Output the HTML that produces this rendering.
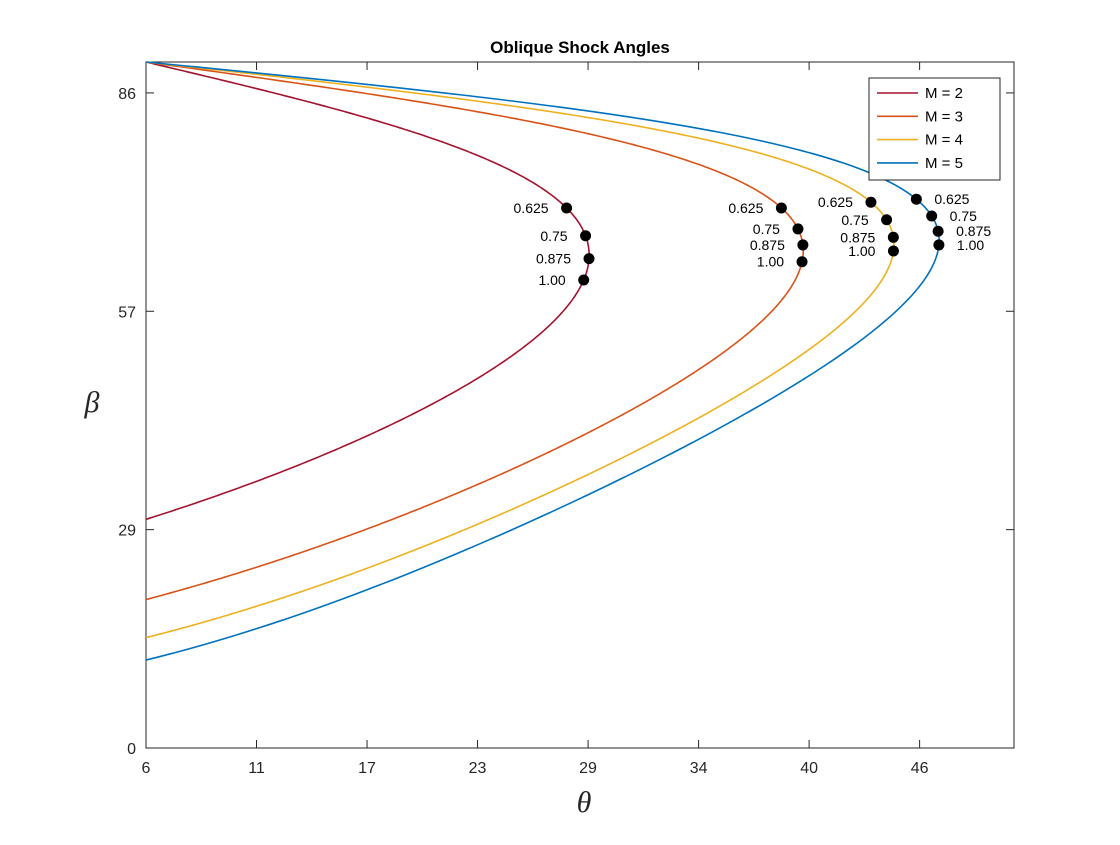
<!DOCTYPE html>
<html><head><meta charset="utf-8"><style>
body{margin:0;background:#fff;}
svg text{font-family:"Liberation Sans",sans-serif;}
</style></head><body>
<svg id="chart" width="1120" height="840" xmlns="http://www.w3.org/2000/svg">
<rect x="0" y="0" width="1120" height="840" fill="#fff"/>
<rect x="146" y="62" width="868" height="686" fill="#fff" stroke="#262626" stroke-width="1"/>
<g id="ticks"></g>
<g id="series"></g>
<g id="markers"></g>
<text x="580" y="53" text-anchor="middle" font-size="17" font-weight="bold" fill="#000">Oblique Shock Angles</text>
<text x="584" y="812" text-anchor="middle" font-size="30" font-style="italic" font-family="Liberation Serif,serif" style="font-family:'Liberation Serif',serif" fill="#262626">θ</text>
<text x="92" y="412" text-anchor="middle" font-size="30" font-style="italic" style="font-family:'Liberation Serif',serif" fill="#262626">β</text>
<g>
<rect x="869" y="78" width="131" height="102" fill="#fff" stroke="#262626" stroke-width="1"/>
<g id="legend"></g>
</g>
</svg>
<script>
const machNumbers=[2,3,4,5];
const seriesColors=['#A2142F','#D95319','#EDB120','#0072BD'];
const seriesNames=['M = 2','M = 3','M = 4','M = 5'];
const markerLabels=['0.625','0.75','0.875','1.00'];
const markerBetaM2=[70.85,67.2,64.2,61.4];
const markerBetaM3=[70.85,68.1,66.0,63.8];
const markerBetaM4=[71.6,69.3,67.0,65.2];
const markerBetaM5=[72.0,69.8,67.8,66.0];
const xTickValues=[0,0.1,0.2,0.3,0.4,0.5,0.6,0.7];
const xTickLabels=['6','11','17','23','29','34','40','46'];
const yTickValues=[0,0.5,1.0,1.5];
const yTickLabels=['0','29','57','86'];
const gamma=1.4;
const X0=146,X1=1014,Y0=748,Y1=62;
const xMax=Math.PI/4,yMax=Math.PI/2;
function sx(v){return X0+v/xMax*(X1-X0);}
function sy(v){return Y0-v/yMax*(Y0-Y1);}
function theta(M,b){
  const num=2/Math.tan(b)*(M*M*Math.sin(b)**2-1);
  const den=M*M*(gamma+Math.cos(2*b))+2;
  return Math.atan(num/den);
}
const NS='http://www.w3.org/2000/svg';
function mk(tag,attrs,parent){const e=document.createElementNS(NS,tag);for(const k in attrs)e.setAttribute(k,attrs[k]);parent.appendChild(e);return e;}
const tg=document.getElementById('ticks');
xTickValues.forEach((v,i)=>{
  const x=sx(v);
  mk('line',{x1:x,x2:x,y1:Y0,y2:Y0-8,stroke:'#262626'},tg);
  mk('line',{x1:x,x2:x,y1:Y1,y2:Y1+8,stroke:'#262626'},tg);
  const t=mk('text',{x:x,y:Y0+25,'text-anchor':'middle','font-size':'16',fill:'#262626'},tg);
  t.textContent=xTickLabels[i];
  
  
});
yTickValues.forEach((v,i)=>{
  const y=sy(v);
  mk('line',{x1:X0,x2:X0+8,y1:y,y2:y,stroke:'#262626'},tg);
  mk('line',{x1:X1,x2:X1-8,y1:y,y2:y,stroke:'#262626'},tg);
  const t=mk('text',{x:X0-10,y:y+6,'text-anchor':'end','font-size':'16',fill:'#262626'},tg);
  t.textContent=yTickLabels[i];
  
  
});
const sg=document.getElementById('series');
machNumbers.forEach((M,i)=>{
  const bmin=Math.asin(1/M);
  let d='';
  for(let k=0;k<=600;k++){
    const b=bmin+(Math.PI/2-bmin)*k/600;
    let th=Math.max(0,theta(M,b));
    d+=(k?'L':'M')+sx(th).toFixed(2)+','+sy(b).toFixed(2);
  }
  const p=mk('path',{d:d,fill:'none',stroke:seriesColors[i],'stroke-width':'1.6'},sg);
  
  
});
const mg=document.getElementById('markers');
const allBetas=[markerBetaM2,markerBetaM3,markerBetaM4,markerBetaM5];
allBetas.forEach((arr,i)=>{
  const M=machNumbers[i];
  arr.forEach((bd,j)=>{
    const b=bd*Math.PI/180;
    const x=sx(theta(M,b)),y=sy(b);
    const c=mk('circle',{cx:x,cy:y,r:5.5,fill:'#000'},mg);
    
    
    const right=(i===3);
    const t=mk('text',{x:right?x+18:x-18,y:y+5,'text-anchor':right?'start':'end','font-size':'14',fill:'#000'},mg);
    t.textContent=markerLabels[j];
    
    
  });
});
const lg=document.getElementById('legend');
seriesNames.forEach((n,i)=>{
  const y=93+i*23.3;
  const l=mk('line',{x1:877,x2:918,y1:y,y2:y,stroke:seriesColors[i],'stroke-width':'1.6'},lg);
  
  
  const t=mk('text',{x:925,y:y+5,'font-size':'15',fill:'#000'},lg);
  t.textContent=n;
  
  
});
</script>
</body></html>
